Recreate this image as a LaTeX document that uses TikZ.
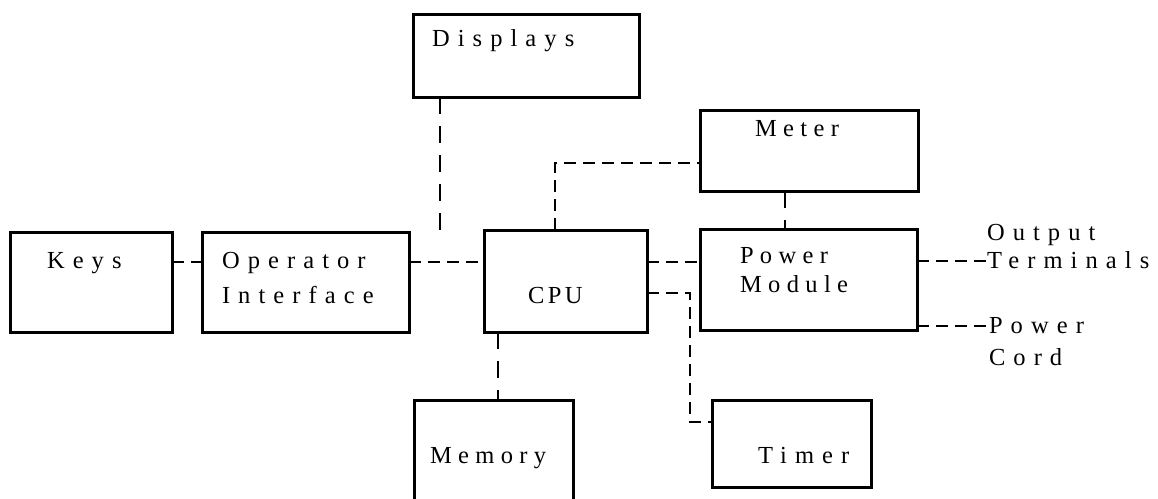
\documentclass[tikz,border=0pt]{standalone}
\usepackage{fontspec}
\setmainfont{Liberation Serif}
\newfontfamily\lblfont[LetterSpace=33]{Liberation Serif}
\newfontfamily\lblmid[LetterSpace=26]{Liberation Serif}
\newfontfamily\lblcpu[LetterSpace=14]{Liberation Serif}
\begin{document}
\begin{tikzpicture}[x=1pt,y=-1pt,
  box/.style={draw, line width=3pt, inner sep=0pt, outer sep=0pt},
  lbl/.style={inner sep=0pt, outer sep=0pt, anchor=base west, align=left,
    font={\lblfont\fontsize{24.5}{29}\selectfont}},
  lblm/.style={lbl, font={\lblmid\fontsize{24.5}{29}\selectfont}},
  conn/.style={line width=1.1pt, dash pattern=on 12pt off 7pt},
  vconn/.style={line width=1.1pt, dash pattern=on 17pt off 12pt}]
\useasboundingbox (0,0) rectangle (1158,498);
% boxes
\node[box, minimum width=162pt, minimum height=100pt] (keys) at (91,282) {};
\node[box, minimum width=207pt, minimum height=100pt] (oper) at (305.5,282) {};
\node[box, minimum width=163pt, minimum height=102pt] (cpu) at (565.5,281) {};
\node[box, minimum width=226pt, minimum height=83pt] (disp) at (526,55.5) {};
\node[box, minimum width=218pt, minimum height=81pt] (meter) at (809,150.5) {};
\node[box, minimum width=217pt, minimum height=101pt] (power) at (808.5,279.5) {};
\node[box, minimum width=159pt, minimum height=110pt] (memory) at (493.5,455) {};
\node[box, minimum width=159pt, minimum height=87pt] (timer) at (791.5,443.5) {};
% labels (multi-line nodes: base anchor is the last line's baseline)
\node[lbl] (disptxt) at (432,46) {Displays};
\node[lbl] (keystxt) at (47,268) {Keys};
\node[lbl] (opertxt) at (222,303) {Operator\\[6pt]Interface};
\node[lbl, font={\lblcpu\fontsize{24.5}{29}\selectfont}] (cputxt) at (528,303) {CPU};
\node[lblm] (metertxt) at (755,136) {Meter};
\node[lblm] (powertxt) at (740,292) {Power\\Module};
\node[lblm] (memtxt) at (430,463) {Memory};
\node[lbl] (timertxt) at (758,463) {Timer};
\node[lbl] (outtxt) at (987,268) {Output\\[-1pt]Terminals};
\node[lbl] (cordtxt) at (989,365) {Power\\[3pt]Cord};
% connectors
\draw[conn] ([yshift=20pt]keys.east) coordinate (ko) -- (oper.west |- ko);
\draw[conn] ([yshift=20pt]oper.east) coordinate (oc) -- (cpu.west |- oc);
\coordinate (dispend) at (440,240);
\draw[vconn] (disp.south -| dispend) -- (dispend);
\coordinate (cm) at (555,163);
\draw[conn] (cpu.north -| cm) -- (cm) -- (meter.west |- cm);
\draw[vconn] ([xshift=-24pt]meter.south) coordinate (mp) -- (power.north -| mp);
\draw[conn] ([yshift=19pt]cpu.east) coordinate (cp) -- (power.west |- cp);
\draw[conn] ([yshift=-12pt]cpu.east) -- ++(43,0) |- ([yshift=21.5pt]timer.west);
\coordinate (cmx) at (498,0);
\draw[vconn] (cpu.south -| cmx) -- (memory.north -| cmx);
\draw[conn] ([yshift=18.5pt]power.east) coordinate (po) -- (outtxt.west |- po);
\draw[conn] ([yshift=-46.5pt]power.east) coordinate (pc) -- (cordtxt.west |- pc);
\end{tikzpicture}
\end{document}
